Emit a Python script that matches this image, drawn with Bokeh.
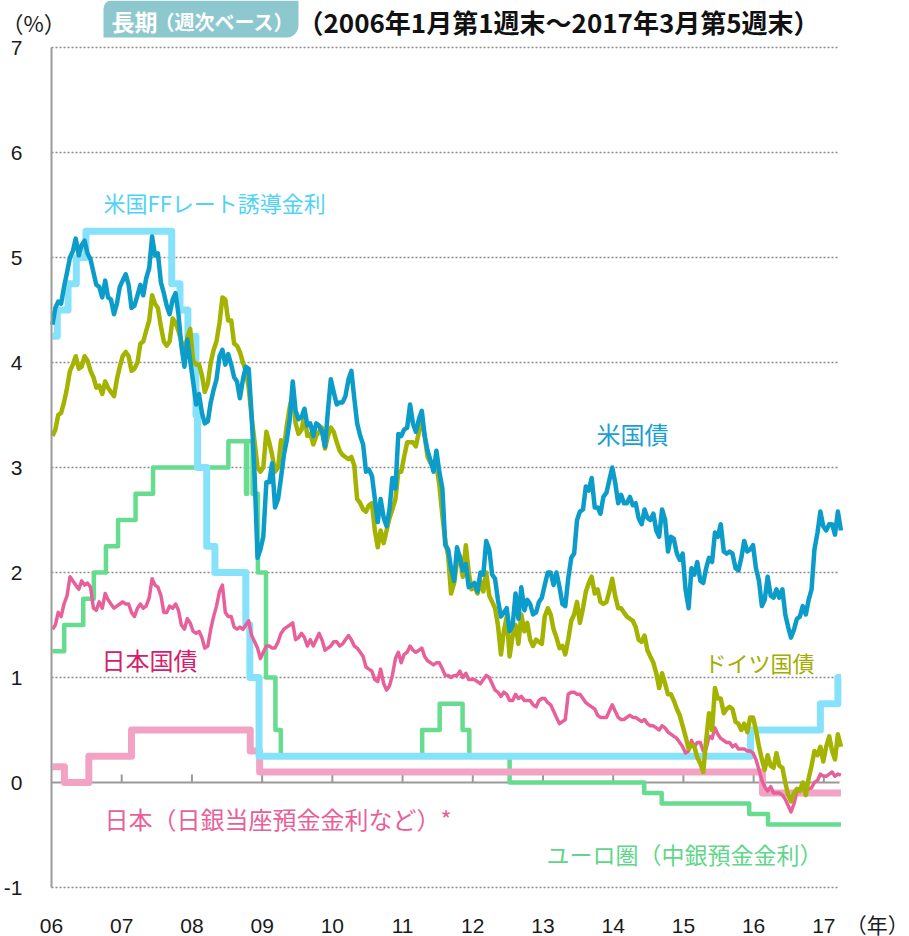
import pandas as pd
from bokeh.plotting import figure
from bokeh.models import Range1d, FixedTicker, Label, BoxAnnotation
from bokeh.embed import file_html
from bokeh.resources import INLINE

# ---------------- data ----------------
YEAR_TICKS = [2006, 2007, 2008, 2009, 2010, 2011, 2012, 2013, 2014, 2015, 2016, 2017]
YEAR_LABELS = ["06", "07", "08", "09", "10", "11", "12", "13", "14", "15", "16", "17"]
UNIT_TICK = 2017.76
UNIT_LABEL = "（年）"
Y_TICKS = [-1, 0, 1, 2, 3, 4, 5, 6, 7]
Y_LABELS = ["-1", "0", "1", "2", "3", "4", "5", "6", "7"]

SERIES_START = "2006-01-06"
SERIES_END = "2017-03-31"

# semi-monthly readings (mid-month, month-end), Jan 2006 .. Mar 2017
us_10y = [
    4.36, 4.52, 4.58, 4.56, 4.72, 4.86, 5.00, 5.06, 5.18, 5.02, 5.12, 5.16,
    5.04, 4.98, 4.86, 4.74, 4.72, 4.62, 4.78, 4.62, 4.60, 4.46, 4.56, 4.72,
    4.78, 4.84, 4.74, 4.52, 4.54, 4.64, 4.74, 4.64, 4.80, 4.90, 5.20, 5.02,
    5.04, 4.76, 4.66, 4.54, 4.46, 4.60, 4.66, 4.46, 4.16, 3.96, 4.22, 4.02,
    3.82, 3.60, 3.70, 3.52, 3.42, 3.44, 3.62, 3.74, 3.84, 4.06, 4.12, 3.98,
    4.08, 3.98, 3.86, 3.82, 3.66, 3.84, 3.96, 3.94, 3.50, 2.92, 2.14, 2.22,
    2.34, 2.86, 2.86, 3.04, 2.62, 2.70, 2.90, 3.12, 3.26, 3.46, 3.82, 3.54,
    3.46, 3.48, 3.56, 3.40, 3.42, 3.30, 3.42, 3.40, 3.34, 3.20, 3.54, 3.84,
    3.72, 3.60, 3.62, 3.62, 3.68, 3.84, 3.92, 3.66, 3.42, 3.30, 3.22, 2.96,
    2.98, 2.92, 2.70, 2.48, 2.70, 2.52, 2.44, 2.60, 2.90, 2.80, 3.32, 3.30,
    3.36, 3.38, 3.60, 3.42, 3.34, 3.46, 3.54, 3.30, 3.16, 3.06, 2.96, 3.16,
    2.96, 2.80, 2.26, 2.22, 2.04, 1.92, 2.24, 2.14, 2.02, 2.08, 1.86, 1.88,
    1.90, 1.82, 2.00, 1.98, 2.30, 2.22, 1.98, 1.94, 1.74, 1.58, 1.62, 1.66,
    1.44, 1.50, 1.80, 1.56, 1.86, 1.64, 1.74, 1.70, 1.60, 1.62, 1.72, 1.76,
    1.88, 2.00, 2.00, 1.88, 2.00, 1.86, 1.70, 1.68, 1.94, 2.14, 2.18, 2.50,
    2.58, 2.60, 2.82, 2.78, 2.90, 2.62, 2.62, 2.56, 2.72, 2.76, 2.88, 3.00,
    2.86, 2.66, 2.74, 2.66, 2.66, 2.72, 2.64, 2.66, 2.52, 2.46, 2.60, 2.52,
    2.50, 2.56, 2.40, 2.34, 2.60, 2.50, 2.20, 2.34, 2.32, 2.18, 2.12, 2.18,
    1.84, 1.66, 2.04, 1.98, 2.10, 1.92, 1.90, 2.04, 2.14, 2.10, 2.38, 2.34,
    2.46, 2.20, 2.18, 2.20, 2.18, 2.04, 2.02, 2.14, 2.30, 2.20, 2.22, 2.26,
    2.04, 1.92, 1.68, 1.74, 1.96, 1.78, 1.76, 1.84, 1.76, 1.84, 1.60, 1.48,
    1.38, 1.46, 1.56, 1.58, 1.68, 1.60, 1.74, 1.84, 2.22, 2.38, 2.58, 2.44,
    2.40, 2.46, 2.46, 2.36, 2.58, 2.40,
]

de_10y = [
    3.30, 3.36, 3.50, 3.52, 3.62, 3.76, 3.92, 3.98, 4.06, 3.94, 3.96, 4.06,
    4.02, 3.92, 3.86, 3.76, 3.78, 3.70, 3.82, 3.76, 3.72, 3.68, 3.84, 3.96,
    4.06, 4.10, 4.06, 3.92, 3.94, 4.00, 4.18, 4.20, 4.30, 4.40, 4.64, 4.56,
    4.52, 4.34, 4.20, 4.16, 4.20, 4.42, 4.38, 4.30, 4.20, 4.10, 4.24, 4.32,
    4.02, 3.98, 3.98, 3.88, 3.72, 3.80, 4.00, 4.12, 4.20, 4.38, 4.62, 4.60,
    4.40, 4.40, 4.18, 4.16, 4.10, 4.00, 3.92, 3.76, 3.48, 3.24, 3.00, 2.96,
    3.00, 3.34, 3.24, 3.12, 2.96, 3.00, 3.26, 3.18, 3.40, 3.58, 3.70, 3.42,
    3.32, 3.36, 3.50, 3.30, 3.32, 3.22, 3.30, 3.34, 3.38, 3.18, 3.30, 3.38,
    3.34, 3.24, 3.16, 3.12, 3.10, 3.08, 3.10, 3.02, 2.70, 2.66, 2.60, 2.58,
    2.64, 2.66, 2.40, 2.24, 2.40, 2.28, 2.40, 2.52, 2.60, 2.70, 2.96, 2.96,
    3.10, 3.24, 3.24, 3.24, 3.20, 3.34, 3.46, 3.30, 3.10, 3.04, 3.00, 3.02,
    2.84, 2.54, 2.30, 2.16, 1.80, 1.90, 2.10, 2.16, 1.96, 2.26, 2.00, 1.84,
    1.86, 1.80, 1.92, 1.82, 2.00, 1.78, 1.72, 1.66, 1.50, 1.22, 1.44, 1.58,
    1.20, 1.40, 1.50, 1.32, 1.60, 1.44, 1.52, 1.36, 1.30, 1.36, 1.34, 1.32,
    1.58, 1.66, 1.60, 1.46, 1.38, 1.28, 1.30, 1.22, 1.36, 1.54, 1.60, 1.72,
    1.52, 1.66, 1.82, 1.90, 1.96, 1.80, 1.84, 1.72, 1.70, 1.72, 1.82, 1.94,
    1.78, 1.66, 1.66, 1.62, 1.58, 1.56, 1.54, 1.48, 1.36, 1.34, 1.40, 1.26,
    1.20, 1.14, 1.04, 0.90, 1.04, 0.94, 0.84, 0.84, 0.78, 0.70, 0.64, 0.54,
    0.44, 0.32, 0.36, 0.34, 0.24, 0.18, 0.10, 0.40, 0.66, 0.50, 0.90, 0.80,
    0.80, 0.66, 0.70, 0.72, 0.70, 0.58, 0.56, 0.50, 0.56, 0.48, 0.62, 0.62,
    0.50, 0.34, 0.22, 0.12, 0.26, 0.16, 0.14, 0.28, 0.16, 0.14, 0.00, -0.12,
    -0.18, -0.10, -0.06, -0.08, 0.00, -0.12, 0.04, 0.16, 0.30, 0.26, 0.34, 0.20,
    0.34, 0.44, 0.30, 0.22, 0.46, 0.34,
]

jp_10y = [
    1.46, 1.50, 1.62, 1.58, 1.70, 1.78, 1.96, 1.92, 1.88, 1.84, 1.92, 1.88,
    1.90, 1.86, 1.66, 1.64, 1.72, 1.66, 1.80, 1.74, 1.70, 1.66, 1.68, 1.70,
    1.72, 1.70, 1.70, 1.62, 1.58, 1.66, 1.70, 1.66, 1.68, 1.76, 1.94, 1.88,
    1.86, 1.78, 1.62, 1.62, 1.68, 1.66, 1.70, 1.64, 1.50, 1.46, 1.56, 1.52,
    1.44, 1.42, 1.44, 1.38, 1.28, 1.30, 1.46, 1.58, 1.68, 1.82, 1.88, 1.62,
    1.58, 1.58, 1.48, 1.46, 1.48, 1.46, 1.50, 1.54, 1.40, 1.34, 1.28, 1.18,
    1.24, 1.30, 1.30, 1.28, 1.28, 1.34, 1.42, 1.46, 1.48, 1.50, 1.52, 1.36,
    1.38, 1.42, 1.38, 1.30, 1.36, 1.30, 1.36, 1.42, 1.36, 1.26, 1.28, 1.30,
    1.34, 1.34, 1.30, 1.32, 1.36, 1.40, 1.36, 1.30, 1.28, 1.24, 1.20, 1.10,
    1.08, 1.06, 0.98, 0.96, 1.08, 0.94, 0.88, 0.92, 1.02, 1.18, 1.24, 1.14,
    1.22, 1.24, 1.30, 1.26, 1.24, 1.26, 1.28, 1.20, 1.16, 1.14, 1.12, 1.14,
    1.14, 1.08, 1.02, 1.02, 1.00, 1.02, 1.02, 1.06, 1.00, 1.04, 0.98, 0.98,
    0.98, 0.96, 0.94, 0.98, 1.02, 1.00, 0.94, 0.88, 0.86, 0.82, 0.86, 0.84,
    0.78, 0.78, 0.84, 0.80, 0.82, 0.78, 0.78, 0.78, 0.74, 0.72, 0.78, 0.80,
    0.80, 0.76, 0.74, 0.68, 0.62, 0.56, 0.58, 0.60, 0.84, 0.86, 0.86, 0.84,
    0.84, 0.80, 0.76, 0.74, 0.72, 0.70, 0.64, 0.62, 0.62, 0.62, 0.68, 0.74,
    0.68, 0.62, 0.60, 0.60, 0.62, 0.64, 0.62, 0.62, 0.60, 0.58, 0.60, 0.56,
    0.54, 0.54, 0.52, 0.50, 0.54, 0.52, 0.48, 0.46, 0.44, 0.42, 0.38, 0.34,
    0.28, 0.30, 0.40, 0.34, 0.38, 0.38, 0.30, 0.32, 0.44, 0.42, 0.52, 0.46,
    0.42, 0.40, 0.38, 0.38, 0.34, 0.36, 0.32, 0.32, 0.32, 0.30, 0.30, 0.28,
    0.22, 0.12, 0.02, -0.04, -0.08, -0.04, -0.10, -0.10, -0.10, -0.12, -0.16, -0.22,
    -0.28, -0.20, -0.08, -0.06, -0.06, -0.08, -0.06, -0.05, 0.00, 0.02, 0.08, 0.06,
    0.06, 0.08, 0.10, 0.06, 0.08, 0.07,
]

# policy rates: dates of change and new level
ff_dates = ["2006-01-06", "2006-01-31", "2006-03-28", "2006-05-10", "2006-06-29",
            "2007-09-18", "2007-10-31", "2007-12-11", "2008-01-22", "2008-01-30",
            "2008-03-18", "2008-04-30", "2008-10-08", "2008-10-29", "2008-12-16",
            "2015-12-16", "2016-12-14", "2017-03-15"]
ff_rates = [4.25, 4.50, 4.75, 5.00, 5.25, 4.75, 4.50, 4.25, 3.50, 3.00,
            2.25, 2.00, 1.50, 1.00, 0.25, 0.50, 0.75, 1.00]

ecb_dates = ["2006-01-06", "2006-03-08", "2006-06-15", "2006-08-09", "2006-10-11",
             "2006-12-13", "2007-03-14", "2007-06-13", "2008-07-09", "2008-10-09",
             "2008-10-15", "2008-11-12", "2008-12-10", "2009-01-21", "2009-03-11",
             "2009-04-08", "2011-04-13", "2011-07-13", "2011-11-09", "2011-12-14",
             "2012-07-11", "2014-06-11", "2014-09-10", "2015-12-09", "2016-03-16"]
ecb_rates = [1.25, 1.50, 1.75, 2.00, 2.25, 2.50, 2.75, 3.00, 3.25, 2.75,
             3.25, 2.75, 2.00, 1.00, 0.50, 0.25, 0.50, 0.75, 0.50, 0.25,
             0.00, -0.10, -0.20, -0.30, -0.40]

boj_dates = ["2006-01-06", "2006-03-09", "2006-07-14", "2007-02-21", "2008-10-31",
             "2008-12-19", "2016-02-16"]
boj_rates = [0.15, 0.00, 0.25, 0.50, 0.30, 0.10, -0.10]

# ---------------- layout ----------------
W, H = 909, 936
LEFT, TOP, BOTTOM = 51, 47, 887          # page px of 2006.0, y=7 and y=-1
PX_PER_YEAR = 792 / 11.28
Y_MIN, Y_MAX = -1.0, 7.0
PX_PER_UNIT = (BOTTOM - TOP) / (Y_MAX - Y_MIN)
X_ORIGIN = 2006.0


def px_x(px):
    return X_ORIGIN + (px - LEFT) / PX_PER_YEAR


def px_y(py):
    return Y_MAX - (py - TOP) / PX_PER_UNIT


def fyear(d):
    d = pd.Timestamp(d)
    start = pd.Timestamp(year=d.year, month=1, day=1)
    n = 366 if d.is_leap_year else 365
    return d.year + (d - start).days / n


def steps(dates, rates):
    xs = [fyear(d) for d in dates] + [fyear(SERIES_END)]
    ys = list(rates) + [rates[-1]]
    return xs, ys


JP = "Noto Sans CJK JP"
LAT = "Liberation Sans"

# the frame covers the whole page; axes sit at fixed data locations
p = figure(width=W, height=H,
           x_range=Range1d(px_x(0), px_x(W)), y_range=Range1d(px_y(H), px_y(0)),
           output_backend="svg", toolbar_location=None,
           min_border_left=0, min_border_right=0, min_border_top=0, min_border_bottom=0)
p.outline_line_color = None
p.xgrid.visible = False
p.ygrid.visible = False

xa = p.xaxis[0]
xa.fixed_location = Y_MIN
xa.ticker = FixedTicker(ticks=YEAR_TICKS + [UNIT_TICK])
overrides = {y: l for y, l in zip(YEAR_TICKS, YEAR_LABELS)}
overrides[UNIT_TICK] = UNIT_LABEL
xa.major_label_overrides = overrides
xa.axis_line_color = None
xa.major_tick_line_color = None
xa.minor_tick_line_color = None
xa.major_label_standoff = 20
xa.major_label_text_font = f"{LAT}, {JP}"
xa.major_label_text_font_size = "21px"
xa.major_label_text_color = "#1a1a1a"

ya = p.yaxis[0]
ya.fixed_location = X_ORIGIN
ya.bounds = (Y_MIN, Y_MAX)
ya.ticker = FixedTicker(ticks=Y_TICKS)
ya.major_label_overrides = {t: l for t, l in zip(Y_TICKS, Y_LABELS)}
ya.axis_line_color = "#9a9a9a"
ya.axis_line_width = 2
ya.major_tick_line_color = None
ya.minor_tick_line_color = None
ya.major_label_standoff = 23
ya.major_label_text_font = LAT
ya.major_label_text_font_size = "21px"
ya.major_label_text_color = "#1a1a1a"

# horizontal guide lines at the y ticks (dotted), solid at zero, ending at 2017 Q1
GRID_END = px_x(839)
dotted = [t for t in Y_TICKS if t != 0]
p.segment(x0=[X_ORIGIN] * len(dotted), y0=dotted, x1=[GRID_END] * len(dotted), y1=dotted,
          line_color="#8a8a8a", line_width=1.5, line_dash="2 2", level="underlay")
p.segment(x0=[X_ORIGIN], y0=[0], x1=[GRID_END], y1=[0],
          line_color="#9a9a9a", line_width=2, level="underlay")
p.segment(x0=YEAR_TICKS[1:], y0=[0] * (len(YEAR_TICKS) - 1),
          x1=YEAR_TICKS[1:], y1=[8 / PX_PER_UNIT] * (len(YEAR_TICKS) - 1),
          line_color="#9a9a9a", line_width=2, level="underlay")

# policy rates
x, y = steps(ecb_dates, ecb_rates)
p.step(x, y, mode="after", line_color="#66dc8e", line_width=4.5, line_join="round")
x, y = steps(boj_dates, boj_rates)
p.step(x, y, mode="after", line_color="#f2a3c3", line_width=7, line_join="round")
x, y = steps(ff_dates, ff_rates)
p.step(x, y, mode="after", line_color="#86e2fb", line_width=7, line_join="round")

# bond yields
dates = pd.date_range(SERIES_START, SERIES_END, periods=len(us_10y))
t = [fyear(d) for d in dates]
p.line(t, jp_10y, line_color="#e8609a", line_width=3.5, line_join="round")
p.line(t, de_10y, line_color="#a4b300", line_width=4.5, line_join="round")
p.line(t, us_10y, line_color="#0b9cc9", line_width=4.5, line_join="round")


def label(px, py, text, color, size, bold=False, align="left"):
    p.add_layout(Label(x=px_x(px), y=px_y(py), text=text, text_color=color,
                       text_font=JP, text_font_size=f"{size}px",
                       text_font_style="bold" if bold else "normal",
                       text_align=align, text_baseline="middle"))


# header
p.add_layout(BoxAnnotation(left=px_x(103), right=px_x(298), top=px_y(0), bottom=px_y(37),
                           fill_color="#8ec8cf", fill_alpha=1, line_color=None,
                           border_radius=dict(top_left=8, top_right=0,
                                              bottom_right=12, bottom_left=0)))
label(1, 21, "（%）", "#1a1a1a", 22)
label(111, 20, "長期", "white", 23, bold=True)
label(154, 21, "（週次ベース）", "white", 20, bold=True)
label(297, 21, "（2006年1月第1週末～2017年3月第5週末）", "#111111", 26, bold=True)

# series labels
label(103, 201, "米国FFレート誘導金利", "#4fd2f6", 22)
label(596, 433, "米国債", "#1aa0d2", 24)
label(101, 659, "日本国債", "#d4206a", 24)
label(704, 661, "ドイツ国債", "#a3ad00", 22)
label(104, 818, "日本（日銀当座預金金利など）*", "#e8609a", 24)
label(546, 853, "ユーロ圏（中銀預金金利）", "#5fd68a", 23)

open("out.html", "w").write(file_html(p, INLINE))
